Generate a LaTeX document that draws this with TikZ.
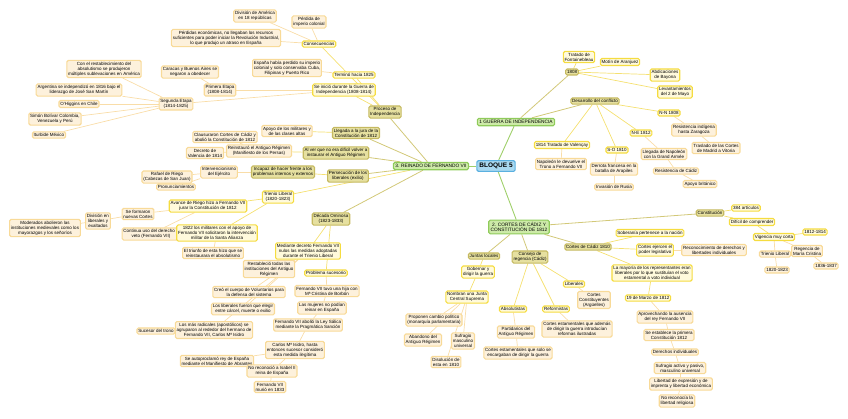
\documentclass[tikz,border=0pt]{standalone}
\usepackage{fontspec}
\setmainfont{Liberation Sans}
\usetikzlibrary{backgrounds}
\definecolor{rootF}{HTML}{A8D8F0}\definecolor{rootB}{HTML}{5AB0E0}
\definecolor{grF}{HTML}{CDEAA8}\definecolor{grB}{HTML}{8FCB5A}
\definecolor{olF}{HTML}{E6E0A0}\definecolor{olB}{HTML}{C5B960}
\definecolor{yeF}{HTML}{FFFADC}\definecolor{yeB}{HTML}{F5DC40}
\definecolor{paF}{HTML}{FDF1DC}\definecolor{paB}{HTML}{F8DA98}
\definecolor{eG}{HTML}{9FCF6A}\definecolor{eO}{HTML}{D2C878}
\definecolor{eY}{HTML}{F5E070}\definecolor{eP}{HTML}{F9DDA8}
\begin{document}
\begin{tikzpicture}[x=1pt,y=-1pt,
 base/.style={rounded corners=1.5pt,align=center,inner sep=1.4pt,line width=1.1pt,font=\fontsize{4.5}{5.1}\selectfont},
 rt/.style={base,fill=rootF,draw=rootB,font=\fontsize{6.5}{7}\selectfont\bfseries,inner sep=2.5pt},
 gr/.style={base,fill=grF,draw=grB,font=\fontsize{4.8}{5.5}\selectfont,inner sep=2pt},
 ol/.style={base,fill=olF,draw=olB},
 ye/.style={base,fill=yeF,draw=yeB},
 pa/.style={base,fill=paF,draw=paB},
 eg/.style={draw=eG,line width=0.9pt},
 eo/.style={draw=eO,line width=0.8pt},
 ey/.style={draw=eY,line width=0.7pt},
 ep/.style={draw=eP,line width=0.7pt}]
\useasboundingbox (0,0) rectangle (848,418);
% main
\node[rt] (root) at (496,166) {BLOQUE 5};
\node[gr] (fer) at (431,166) {3. REINADO DE FERNANDO VII};
\node[gr] (gue) at (516,122) {1 GUERRA DE INDEPENDENCIA};
\node[gr] (cor) at (519,227) {2. CORTES DE CÁDIZ Y\\CONSTITUCIÓN DE 1812};
% Fernando VII
\node[ol] (proc) at (385,112) {Proceso de\\Independencia};
\node[ye] (cons) at (319,44) {Consecuencias};
\node[pa] (div) at (255,16) {División de América\\en 18 repúblicas};
\node[pa] (perd) at (309,22) {Pérdida de\\imperio colonial};
\node[pa] (peco) at (226,38) {Pérdidas económicas, no llegaban los recursos\\suficientes para poder iniciar la Revolución Industrial,\\lo que produjo un atraso en España};
\node[ye] (term) at (354,75) {Terminó hacia 1825};
\node[pa] (esp) at (287,68) {España había perdido su imperio\\colonial y solo conservaba Cuba,\\Filipinas y Puerto Rico};
\node[ye] (ini) at (344,90) {Se inició durante la Guerra de\\Independencia (1808-1814)};
\node[pa] (pe) at (220,90) {Primera Etapa\\(1808-1814)};
\node[pa] (car) at (190,72) {Caracas y Buenos Aires se\\negaron a obedecer};
\node[pa] (se) at (176,104) {Segunda Etapa\\(1814-1825)};
\node[pa] (s1) at (104,69) {Con el restablecimiento del\\absolutismo se produjeron\\múltiples sublevaciones en América};
\node[pa] (s2) at (79,90) {Argentina se independizó en 1816 bajo el\\liderazgo de José San Martín};
\node[pa] (s3) at (79,104) {O'Higgins en Chile};
\node[pa] (s4) at (55,119) {Simón Bolívar Colombia,\\Venezuela y Perú};
\node[pa] (s5) at (49,135) {Iturbide México};
\node[ol] (lleg) at (356,133) {Llegada a la jura de la\\Constitución de 1812};
\node[pa] (apo) at (287,131) {Apoyo de los militares y\\de las clases altas};
\node[ol] (alv) at (336,153) {Al ver que no era difícil volver a\\instaurar el Antiguo Régimen};
\node[pa] (rein) at (259,151) {Reinstauró el Antiguo Régimen\\(Manifiesto de los Persas)};
\node[pa] (clau) at (225,137) {Clausuraron Cortes de Cádiz y\\abolió la Constitución de 1812};
\node[pa] (decr) at (205,153) {Decreto de\\Valencia de 1814};
\node[ol] (pers) at (348,176) {Persecución de los\\liberales (exilio)};
\node[ol] (inca) at (283,172) {Incapaz de hacer frente a los\\problemas internos y externos};
\node[pa] (inte) at (219,172) {Intervencionismo\\del Ejército};
\node[pa] (rafa) at (167,177) {Rafael de Riego\\(Cabezas de San Juan)};
\node[pa] (pron) at (176,187) {Pronunciamientos};
\node[ye] (tri) at (278,197) {Trienio Liberal\\(1820-1823)};
\node[ye] (ava) at (208,206) {Avance de Riego hizo a Fernando VII\\jurar la Constitución de 1812};
\node[pa] (nuev) at (138,214) {Se formaron\\nuevas Cortes};
\node[pa] (veto) at (151,234) {Continua uso del derecho a\\veto (Fernando VII)};
\node[pa] (dliv) at (98,221) {División en\\liberales y\\exaltados};
\node[pa] (mode) at (45,228) {Moderados abolieron las\\instituciones medievales como los\\mayorazgos y los señoríos};
\node[ye] (m22) at (217,233) {1822 los militares con el apoyo de\\Fernando VII solicitaron la intervención\\militar de la Santa Alianza};
\node[pa] (triu) at (213,253) {El triunfo de esta hizo que se\\reinstaurara el absolutismo};
\node[ol] (deca) at (331,219) {Década Ominosa\\(1823-1833)};
\node[ye] (medi) at (308,251) {Mediante decreto Fernando VII\\nulos las medidas adoptadas\\durante el Trienio Liberal};
\node[pa] (rest) at (269,269) {Restableció todas las\\instituciones del Antiguo\\Régimen};
\node[pa] (creo) at (249,292) {Creó el cuerpo de Voluntarios para\\la defensa del sistema};
\node[pa] (libe) at (243,309) {Los liberales fueron que elegir\\entre cárcel, muerte o exilio};
\node[pa] (radi) at (214,330) {Los más radicales (apostólicos) se\\agruparon al rededor del hermano de\\Fernando VII, Carlos Mª Isidro};
\node[pa] (suc) at (156,331) {Sucesor del trono};
\node[ye] (prob) at (326,273) {Problema sucesorio};
\node[pa] (hija) at (327,291) {Fernando VII tuvo una hija con\\Mª Cristina de Borbón};
\node[pa] (muj) at (322,308) {Las mujeres no podían\\reinar en España};
\node[pa] (sali) at (308,325) {Fernando VII abolió la Ley Sálica\\mediante la Pragmática Sanción};
\node[pa] (carl) at (295,350) {Carlos Mª Isidro, hasta\\entonces sucesor consideró\\esta medida ilegítima};
\node[pa] (auto) at (217,361) {Se autoproclamó rey de España\\mediante el Manifiesto de Abrantes};
\node[pa] (nore) at (272,371) {No reconoció a Isabel II\\reina de España};
\node[pa] (muri) at (270,387) {Fernando VII\\murió en 1833};
% Guerra
\node[ol] (y08) at (572,72) {1808};
\node[ye] (font) at (579,57) {Tratado de\\Fontainebleau};
\node[ye] (moti) at (620,62) {Motín de Aranjuez};
\node[ye] (abdi) at (665,75) {Abdicaciones\\de Bayona};
\node[ye] (leva) at (675,92) {Levantamientos\\del 2 de Mayo};
\node[ol] (desa) at (595,101) {Desarrollo del conflicto};
\node[ye] (nn) at (669,113) {N-N 1808};
\node[pa] (rind) at (694,130) {Resistencia indígena\\hasta Zaragoza};
\node[pa] (tras) at (716,148) {Traslado de las Cortes\\de Madrid a Vitoria};
\node[ye] (ne) at (641,133) {N-E 1812};
\node[pa] (napo) at (664,154) {Llegada de Napoleón\\con la Grand Armée};
\node[pa] (rcad) at (676,171) {Resistencia de Cádiz};
\node[pa] (brit) at (700,184) {Apoyo británico};
\node[ye] (vale) at (562,145) {1814 Tratado de Valençay};
\node[pa] (devu) at (561,164) {Napoleón le devuelve el\\Trono a Fernando VII};
\node[ye] (so) at (617,150) {S-O 1810};
\node[pa] (arap) at (614,169) {Derrota francesa en la\\batalla de Arapiles};
\node[pa] (rusi) at (614,187) {Invasión de Rusia};
% Cortes
\node[ol] (const) at (710,213) {Constitución};
\node[ye] (art) at (746,208) {384 artículos};
\node[ye] (dif) at (752,222) {Difícil de comprender};
\node[ye] (vig) at (774,237) {Vigencia muy corta};
\node[ye] (v1) at (815,232) {1812-1814};
\node[pa] (regm) at (807,251) {Regencia de\\María Cristina};
\node[pa] (v3) at (826,266) {1836-1837};
\node[pa] (trl) at (775,254) {Trienio Liberal};
\node[pa] (v2) at (777,270) {1820-1823};
\node[ol] (c10) at (588,247) {Cortes de Cádiz 1810};
\node[ye] (sobe) at (650,233) {Soberanía pertenece a la nación};
\node[ye] (cej) at (655,250) {Cortes ejercen el\\poder legislativo};
\node[pa] (reco) at (714,250) {Reconocimiento de derechos y\\libertades individuales};
\node[ye] (mayo) at (652,273) {La mayoría de los representantes eran\\liberales por lo que sustituían el voto\\estamental a voto individual};
\node[ye] (m19) at (648,298) {19 de Marzo de 1812};
\node[pa] (k1) at (665,317) {Aprovechando la ausencia\\del rey Fernando VII};
\node[pa] (k2) at (669,335) {Se establece la primera\\Constitución 1812};
\node[pa] (k3) at (675,352) {Derechos individuales};
\node[pa] (k4) at (680,368) {Sufragio activo y pasivo,\\masculino universal};
\node[pa] (k5) at (681,384) {Libertad de expresión y de\\imprenta y libertad económica};
\node[pa] (k6) at (677,401) {No reconocía la\\libertad religiosa};
\node[ol] (jun) at (484,256) {Juntas locales};
\node[ye] (gob) at (478,272) {Gobernar y\\dirigir la guerra};
\node[ye] (nom) at (467,297) {Nombran una Junta\\Central Suprema};
\node[pa] (prop) at (434,320) {Proponen cambio político\\(monarquía parlamentaria)};
\node[pa] (aban) at (423,340) {Abandono del\\Antiguo Régimen};
\node[pa] (sufr) at (463,341) {Sufragio\\masculino\\universal};
\node[pa] (diso) at (446,362) {Disolución de\\esta en 1810};
\node[ol] (cons2) at (530,257) {Consejo de\\regencia (Cádiz)};
\node[ye] (libr) at (574,284) {Liberales};
\node[pa] (arg) at (594,300) {Cortes\\Constituyentes\\(Argüelles)};
\node[ye] (abso) at (513,309) {Absolutistas};
\node[pa] (part) at (516,332) {Partidarios del\\Antiguo Régimen};
\node[pa] (esta) at (518,353) {Cortes estamentales que solo se\\encargaban de dirigir la guerra};
\node[ye] (refo) at (556,309) {Reformistas};
\node[pa] (esta2) at (577,329) {Cortes estamentales que además\\de dirigir la guerra introducían\\reformas ilustradas};
\begin{pgfonlayer}{background}
\foreach \a/\b in {root/fer,root/gue,root/cor} \draw[eg] (\a) -- (\b);
\foreach \a/\b in {fer/proc,fer/lleg,fer/alv,fer/pers,fer/deca,gue/y08,gue/desa,cor/const,cor/c10,cor/jun,cor/cons2} \draw[eo] (\a) -- (\b);
\foreach \a/\b in {proc/cons,proc/term,proc/ini,fer/tri,tri/ava,tri/m22,deca/medi,deca/prob,y08/font,y08/moti,y08/abdi,y08/leva,desa/nn,desa/ne,desa/vale,desa/so,const/art,const/dif,dif/vig,vig/v1,c10/sobe,c10/cej,c10/mayo,mayo/m19,jun/gob,gob/nom,cons2/libr,cons2/abso,cons2/refo,lleg/apo,alv/rein,pers/inca} \draw[ey] (\a) -- (\b);
\foreach \a/\b in {cons/div,cons/perd,cons/peco,term/esp,ini/pe,ini/se,pe/car,se/s1,se/s2,se/s3,se/s4,se/s5,rein/clau,rein/decr,inca/inte,inte/rafa,inte/pron,ava/nuev,ava/veto,nuev/dliv,dliv/mode,m22/triu,medi/rest,medi/creo,medi/libe,medi/radi,radi/suc,prob/hija,hija/muj,muj/sali,sali/carl,carl/auto,carl/nore,nore/muri,nn/rind,rind/tras,ne/napo,napo/rcad,rcad/brit,vale/devu,so/arap,arap/rusi,vig/regm,regm/v3,vig/trl,trl/v2,cej/reco,m19/k1,k1/k2,k2/k3,k3/k4,k4/k5,k5/k6,nom/prop,nom/aban,nom/sufr,nom/diso,libr/arg,abso/part,part/esta,refo/esta2} \draw[ep] (\a) -- (\b);
\end{pgfonlayer}
\end{tikzpicture}
\end{document}
